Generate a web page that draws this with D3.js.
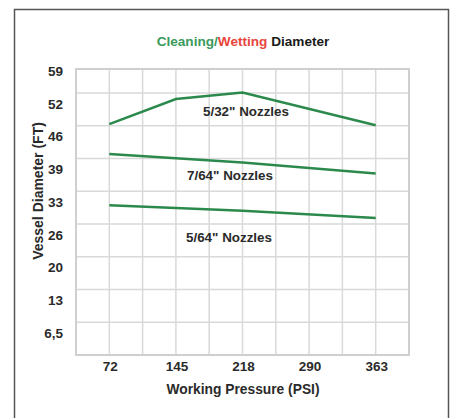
<!DOCTYPE html>
<html>
<head>
<meta charset="utf-8">
<script src="https://cdn.jsdelivr.net/npm/d3@7"></script>
<style>
    body { margin: 0; background: #fff; }
    text { font-family: "Liberation Sans", Arial, sans-serif; font-weight: bold; }
</style>
</head>
<body>
<div id="chart"></div>
<script>
// pressure steps (psi) and their printed labels
const pressure_ticks = [72.5, 145, 217.5, 290, 362.5];
const pressure_labels = ["72", "145", "218", "290", "363"];

// diameter steps (ft) and their printed labels
const diameter_ticks = [6.5, 13, 19.5, 26, 32.5, 39, 45.5, 52, 58.5];
const diameter_labels = ["6,5", "13", "20", "26", "33", "39", "46", "52", "59"];

// nozzle curves
const nozzle_532_psi = [72.5, 145, 217.5, 362.5];
const nozzle_532_ft = [45.8, 50.8, 52.1, 45.6];
const nozzle_764_psi = [72.5, 217.5, 362.5];
const nozzle_764_ft = [39.9, 38.2, 36.0];
const nozzle_564_psi = [72.5, 217.5, 362.5];
const nozzle_564_ft = [29.7, 28.6, 27.2];

const series = [
    {name: '5/32" Nozzles', psi: nozzle_532_psi, ft: nozzle_532_ft, lx: 246, ly: 111},
    {name: '7/64" Nozzles', psi: nozzle_764_psi, ft: nozzle_764_ft, lx: 230, ly: 175},
    {name: '5/64" Nozzles', psi: nozzle_564_psi, ft: nozzle_564_ft, lx: 229, ly: 237}
];

const width = 453;
const height = 418;
const plot = {left: 76, right: 409, top: 69, bottom: 355};

const svg = d3.select("#chart")
    .append("svg")
    .attr("width", width)
    .attr("height", height);

// outer frame
svg.append("rect")
    .attr("x", 14.5).attr("y", 9.5)
    .attr("width", 434).attr("height", 420)
    .attr("fill", "none")
    .attr("stroke", "#555")
    .attr("stroke-width", 1.5);

let x = d3.scaleLinear()
    .domain([36.25, 398.75])
    .range([plot.left, plot.right]);

let y = d3.scaleLinear()
    .domain([0, 56.75])
    .range([plot.bottom, plot.top]);

// grid
const grid = svg.append("g")
    .attr("stroke", "#d9d9d9")
    .attr("stroke-width", 1.5);

grid.selectAll("line.v")
    .data(d3.range(36.25, 398.75 + 1, 36.25))
    .enter().append("line")
    .attr("x1", d => x(d)).attr("x2", d => x(d))
    .attr("y1", plot.top).attr("y2", plot.bottom);

grid.selectAll("line.h")
    .data(diameter_ticks.filter(d => y(d) > plot.top))
    .enter().append("line")
    .attr("x1", plot.left).attr("x2", plot.right)
    .attr("y1", d => y(d)).attr("y2", d => y(d));

svg.append("rect")
    .attr("x", plot.left).attr("y", plot.top)
    .attr("width", plot.right - plot.left)
    .attr("height", plot.bottom - plot.top)
    .attr("fill", "none")
    .attr("stroke", "#cfcfcf")
    .attr("stroke-width", 2);

// y tick labels sit just under their grid line
svg.append("g")
    .selectAll("text")
    .data(diameter_ticks)
    .enter().append("text")
    .attr("x", 63)
    .attr("y", d => y(d) + 11)
    .attr("dy", "0.35em")
    .attr("text-anchor", "end")
    .attr("font-size", 13.5)
    .attr("fill", "#2a2a2a")
    .text((d, i) => diameter_labels[i]);

// x tick labels
svg.append("g")
    .selectAll("text")
    .data(pressure_ticks)
    .enter().append("text")
    .attr("x", d => x(d) + 1)
    .attr("y", 366)
    .attr("dy", "0.35em")
    .attr("text-anchor", "middle")
    .attr("font-size", 13.5)
    .attr("fill", "#2a2a2a")
    .text((d, i) => pressure_labels[i]);

// axis titles
svg.append("text")
    .attr("x", 243).attr("y", 389)
    .attr("dy", "0.35em")
    .attr("text-anchor", "middle")
    .attr("font-size", 13.8)
    .attr("fill", "#2a2a2a")
    .text("Working Pressure (PSI)");

svg.append("text")
    .attr("transform", "translate(38,191) rotate(-90)")
    .attr("dy", "0.35em")
    .attr("text-anchor", "middle")
    .attr("font-size", 14)
    .attr("fill", "#2a2a2a")
    .text("Vessel Diameter (FT)");

// title in three colours
const title = svg.append("text")
    .attr("x", 243).attr("y", 41)
    .attr("dy", "0.35em")
    .attr("text-anchor", "middle")
    .attr("font-size", 13.6);
title.append("tspan").attr("fill", "#3a9a5c").text("Cleaning/");
title.append("tspan").attr("fill", "#e8463c").text("Wetting");
title.append("tspan").attr("fill", "#1a1a1a").text(" Diameter");

// nozzle lines
let line = d3.line()
    .x(d => x(d[0]))
    .y(d => y(d[1]));

svg.append("g")
    .selectAll("path")
    .data(series)
    .enter().append("path")
    .attr("d", s => line(d3.zip(s.psi, s.ft)))
    .attr("fill", "none")
    .attr("stroke", "#2b8a4b")
    .attr("stroke-width", 2.5);

svg.append("g")
    .selectAll("text")
    .data(series)
    .enter().append("text")
    .attr("x", s => s.lx)
    .attr("y", s => s.ly)
    .attr("dy", "0.35em")
    .attr("text-anchor", "middle")
    .attr("font-size", 13.4)
    .attr("fill", "#2a2a2a")
    .text(s => s.name);
</script>
</body>
</html>
